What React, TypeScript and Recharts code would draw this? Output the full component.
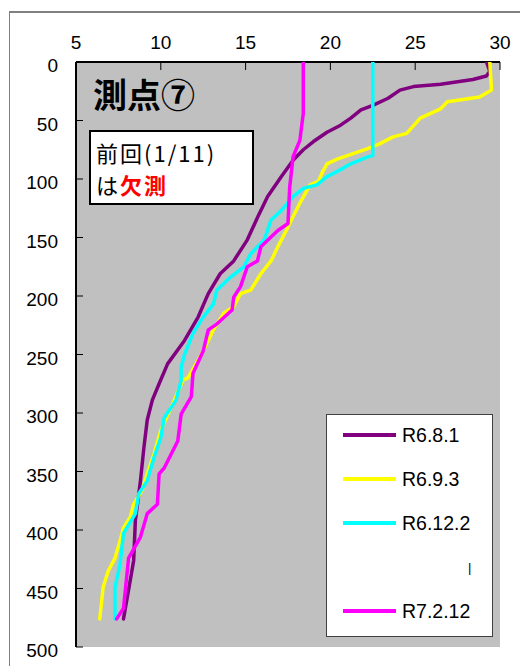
import * as React from "react";
import {
  CartesianGrid,
  Legend,
  Scatter,
  ScatterChart,
  XAxis,
  YAxis,
} from "recharts";

// depth (m) / water temperature (°C) pairs
const r6_8_1Depth = [0, 8, 12, 15, 19, 21, 24, 31, 37, 41, 48, 54, 60, 68, 75, 84, 98, 115, 133, 152, 170, 181, 198, 218, 238, 258, 275, 289, 306, 330, 358, 392, 426, 443, 476];
const r6_8_1Temp = [29.2, 29.4, 29.2, 28.4, 26.5, 24.9, 24.1, 23.4, 22.5, 21.8, 21.2, 20.6, 19.8, 19.0, 18.4, 17.8, 17.1, 16.3, 15.7, 15.1, 14.3, 13.5, 12.8, 12.2, 11.4, 10.4, 9.9, 9.5, 9.2, 9.0, 8.8, 8.5, 8.4, 8.2, 7.8];

const r6_9_3Depth = [0, 24, 30, 34, 40, 48, 61, 64, 70, 74, 83, 87, 95, 102, 105, 118, 132, 144, 158, 170, 181, 195, 198, 209, 215, 229, 244, 255, 270, 272, 289, 315, 335, 352, 366, 378, 389, 398, 409, 424, 435, 449, 476];
const r6_9_3Temp = [29.4, 29.5, 28.8, 26.9, 26.5, 25.3, 24.5, 23.7, 22.9, 22.2, 20.4, 19.8, 19.5, 19.3, 18.8, 18.3, 17.8, 17.4, 16.9, 16.5, 15.9, 15.3, 14.7, 14.3, 13.7, 13.1, 12.6, 12.2, 11.6, 11.3, 10.8, 10.0, 9.6, 9.2, 8.9, 8.4, 8.2, 7.8, 7.6, 7.3, 6.9, 6.6, 6.4];

const r6_12_2Depth = [0, 80, 81, 87, 92, 98, 105, 108, 115, 127, 135, 152, 164, 175, 184, 195, 207, 218, 232, 250, 261, 272, 289, 304, 321, 338, 358, 369, 386, 403, 429, 449, 476];
const r6_12_2Temp = [22.5, 22.5, 22.2, 21.2, 20.6, 19.8, 19.2, 18.4, 17.8, 17.1, 16.5, 16.1, 15.3, 14.9, 14.1, 13.3, 13.1, 12.5, 11.9, 11.4, 11.2, 11.2, 10.9, 10.2, 10.0, 9.6, 9.2, 8.7, 8.5, 7.8, 7.6, 7.3, 7.3];

const r7_2_12Depth = [0, 44, 67, 81, 107, 138, 144, 158, 170, 175, 192, 201, 212, 224, 229, 247, 266, 286, 301, 324, 347, 352, 378, 386, 406, 424, 467, 476];
const r7_2_12Temp = [18.4, 18.4, 18.2, 17.8, 17.6, 17.5, 16.9, 15.9, 15.7, 15.1, 14.7, 14.3, 14.2, 13.3, 12.8, 12.5, 11.9, 11.8, 11.2, 11.0, 10.2, 9.9, 9.8, 9.2, 8.8, 8.1, 7.8, 7.4];

const tempTicks = [5, 10, 15, 20, 25, 30];
const depthTicks = [0, 50, 100, 150, 200, 250, 300, 350, 400, 450, 500];

const zip = (depth: number[], temp: number[]) =>
  depth.map((d, i) => ({ d, t: temp[i] }));

const series = [
  { name: "R6.8.1", color: "#800080", data: zip(r6_8_1Depth, r6_8_1Temp) },
  { name: "R6.9.3", color: "#FFFF00", data: zip(r6_9_3Depth, r6_9_3Temp) },
  { name: "R6.12.2", color: "#00FFFF", data: zip(r6_12_2Depth, r6_12_2Temp) },
  { name: "R7.2.12", color: "#FF00FF", data: zip(r7_2_12Depth, r7_2_12Temp) },
];

// legend rows as drawn in the original (one blank row before R7.2.12)
const legendRows = ["R6.8.1", "R6.9.3", "R6.12.2", "|", "R7.2.12"];

const NUM_FONT = "'Liberation Sans', Arial, sans-serif";
const JP_FONT = "'Noto Sans CJK JP', sans-serif";

function TopTick({ x, y, payload }: any) {
  return (
    <g>
      <line x1={x} x2={x} y1={y + 13} y2={y + 21} stroke="#000" strokeWidth={1} />
      <text x={x} y={y} textAnchor="middle" fontSize={19} fontFamily={NUM_FONT} fill="#000">
        {payload.value}
      </text>
    </g>
  );
}

function LeftTick({ x, y, payload }: any) {
  return (
    <g>
      <line x1={x + 18} x2={x + 25} y1={y} y2={y} stroke="#000" strokeWidth={1} />
      <text x={x} y={y + 10} textAnchor="end" fontSize={19} fontFamily={NUM_FONT} fill="#000">
        {payload.value}
      </text>
    </g>
  );
}

function LegendBox() {
  const colorOf = (name: string) => series.find((s) => s.name === name)?.color;
  return (
    <div
      style={{
        width: 167,
        height: 223,
        background: "#fff",
        border: "1px solid #404040",
        boxSizing: "border-box",
      }}
    >
      <div style={{ position: "relative", top: -2 }}>
        {legendRows.map((name, i) => {
          const color = colorOf(name);
          return (
            <div key={i} style={{ height: 44, display: "flex", alignItems: "center" }}>
              <div style={{ width: 16 }} />
              <div style={{ width: 53, height: 4, background: color ?? "transparent" }} />
              {color ? (
                <span style={{ marginLeft: 6, fontSize: 19.5, fontFamily: NUM_FONT, color: "#000" }}>
                  {name}
                </span>
              ) : (
                <span style={{ marginLeft: 72, fontSize: 13, fontFamily: NUM_FONT, color: "#000" }}>
                  {name}
                </span>
              )}
            </div>
          );
        })}
      </div>
    </div>
  );
}

export default function App() {
  return (
    <div
      style={{
        position: "absolute",
        left: 0,
        top: 0,
        width: 520,
        height: 666,
        background: "#fff",
        overflow: "hidden",
      }}
    >
      <div
        style={{
          position: "absolute",
          left: 9,
          top: 11,
          width: 600,
          height: 700,
          borderLeft: "1px solid #808080",
          borderTop: "2px solid #808080",
        }}
      />
      <ScatterChart width={520} height={666} margin={{ top: 22, right: 20, bottom: 19, left: 16 }}>
        <CartesianGrid horizontal={false} vertical={false} fill="#C0C0C0" fillOpacity={1} />
        <XAxis
          type="number"
          dataKey="t"
          orientation="top"
          domain={[5, 30]}
          ticks={tempTicks}
          height={40}
          tickSize={0}
          tickMargin={13}
          tick={<TopTick />}
          axisLine={{ stroke: "#000", strokeWidth: 2 }}
          allowDataOverflow
        />
        <XAxis
          xAxisId="bottom"
          type="number"
          orientation="bottom"
          domain={[5, 30]}
          height={0}
          tick={false}
          tickLine={false}
          axisLine={{ stroke: "#000", strokeWidth: 2.5 }}
        />
        <YAxis
          type="number"
          dataKey="d"
          reversed
          domain={[0, 500]}
          ticks={depthTicks}
          width={60}
          tickSize={0}
          tickMargin={18}
          tick={<LeftTick />}
          axisLine={{ stroke: "#000", strokeWidth: 2 }}
          allowDataOverflow
        />
        <YAxis
          yAxisId="right"
          type="number"
          orientation="right"
          domain={[0, 500]}
          width={0}
          tick={false}
          tickLine={false}
          axisLine={{ stroke: "#000", strokeWidth: 2.5 }}
        />
        {series.map((s) => (
          <Scatter
            key={s.name}
            name={s.name}
            data={s.data}
            fill={s.color}
            line={{ stroke: s.color, strokeWidth: 3.5, strokeLinejoin: "round", strokeLinecap: "round" }}
            lineJointType="linear"
            shape={() => <g />}
            isAnimationActive={false}
          />
        ))}
        <Legend
          layout="horizontal"
          align="center"
          verticalAlign="middle"
          content={() => <LegendBox />}
          wrapperStyle={{ position: "absolute", left: 326, top: 414, width: 167, height: 223 }}
        />
      </ScatterChart>
      <div
        style={{
          position: "absolute",
          left: 93,
          top: 74,
          fontFamily: JP_FONT,
          fontWeight: 700,
          fontSize: 34,
          lineHeight: "40px",
          color: "#000",
          whiteSpace: "nowrap",
        }}
      >
        測点⑦
      </div>
      <div
        style={{
          position: "absolute",
          left: 89,
          top: 130,
          width: 165,
          height: 75,
          boxSizing: "border-box",
          border: "2px solid #000",
          background: "#fff",
          fontFamily: JP_FONT,
          fontSize: 22,
          lineHeight: "32px",
          letterSpacing: 2,
          paddingLeft: 5,
          paddingTop: 4,
          color: "#000",
          whiteSpace: "nowrap",
        }}
      >
        <div>前回(1/11)</div>
        <div>
          は<span style={{ color: "#FF0000", fontWeight: 700 }}>欠測</span>
        </div>
      </div>
    </div>
  );
}
